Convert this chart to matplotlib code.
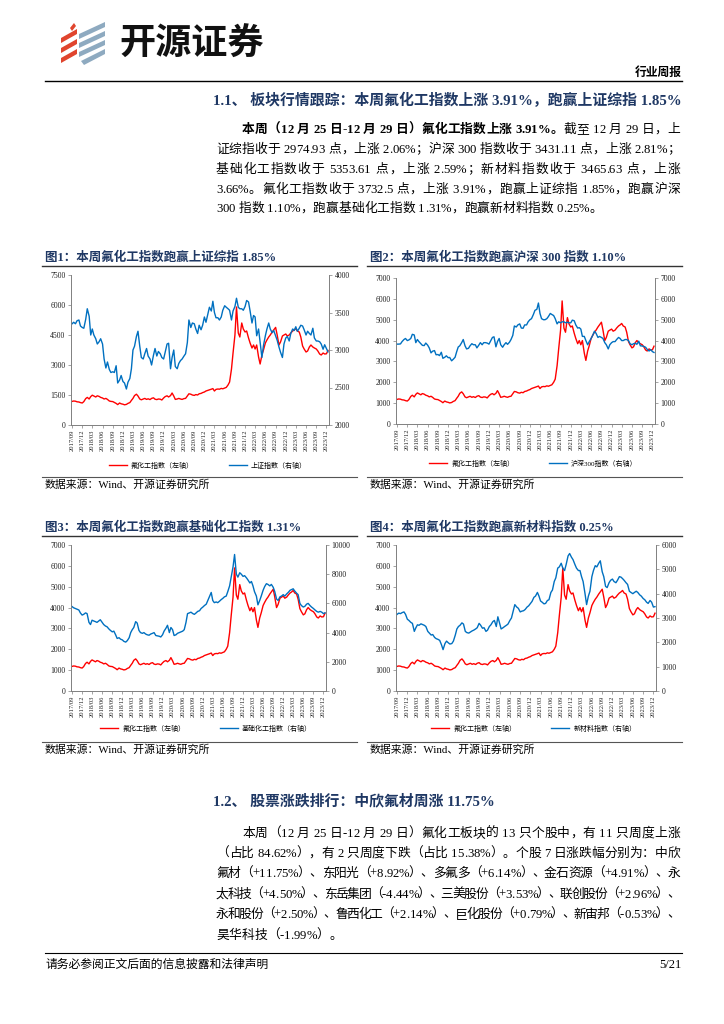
import pandas as pd
import matplotlib
matplotlib.use("Agg")
import matplotlib.pyplot as plt
import matplotlib.dates as mdates
from matplotlib.patches import Polygon
from matplotlib.lines import Line2D
from matplotlib.font_manager import FontProperties

FAM = ["Liberation Serif", "Noto Sans CJK SC"]
plt.rcParams["font.family"] = FAM
plt.rcParams["axes.unicode_minus"] = False

W, H = 724, 1024
NAVY = "#1F3864"
RED = "#FF0000"
BLUE = "#0070C0"
GREY = "#808080"

# semi-monthly readings, 2017/09 .. 2023/12
dates = pd.date_range("2017-09-01", periods=152, freq="SMS")

fluoro = [
    1180, 1200, 1190, 1160, 1150, 1120, 1100, 1170,
    1320, 1380, 1300, 1420, 1490, 1450, 1400, 1460, 1430, 1380, 1350, 1300,
    1330, 1280, 1200, 1180, 1170, 1130, 1080, 1020, 1100, 1060, 1040, 1010,
    1030, 1080, 1120, 1230, 1330, 1470, 1540, 1450, 1300, 1260, 1300, 1330,
    1280, 1310, 1270, 1330, 1360, 1290, 1270, 1300, 1290, 1250, 1350, 1420,
    1460, 1400, 1470, 1600, 1450, 1280, 1300, 1330, 1300, 1280, 1320, 1330,
    1450, 1560, 1540, 1500, 1480, 1520, 1500, 1560, 1580, 1620, 1650, 1700,
    1730, 1760, 1790, 1820, 1700, 1780, 1800, 1790, 1830, 1810, 1850, 1880,
    2000, 2150, 2800, 3600, 4500, 5900, 4600, 4400, 5100, 4800, 4650, 4700,
    4350, 4100, 3850, 4000, 3800, 4000, 3400, 3050, 3500, 3750, 4100, 4250,
    4400, 4500, 4650, 4750, 4880, 4500, 4000, 4150, 4450, 4500, 4550, 4450,
    4500, 4600, 4700, 4750, 4820, 4700, 4650, 4400, 3950, 3800, 3650, 3700,
    3900, 4000, 3900, 3850, 3800, 3700, 3550, 3500, 3600, 3550, 3560, 3730,
]

shanghai = [
    3350, 3370, 3350, 3390, 3400, 3320, 3300, 3290,
    3410, 3550, 3450, 3200, 3280, 3200, 3150, 3080, 3110, 3150, 3080, 2880,
    2760, 2840, 2740, 2700, 2710, 2700, 2790, 2560, 2600, 2660, 2580, 2560,
    2480, 2570, 2620, 2750, 3000, 3050, 3180, 3250, 3050, 2900, 2880, 2950,
    3020, 2920, 2880, 2800, 2930, 3020, 2920, 2980, 2950, 2900, 2880, 2970,
    3080, 3090, 2750, 2900, 3000, 2780, 2750, 2820, 2860, 2880, 2920, 2950,
    3100, 3400, 3300, 3360, 3350, 3280, 3220, 3330, 3270, 3330, 3440, 3370,
    3480, 3570, 3520, 3650, 3500, 3430, 3430, 3400, 3440, 3530, 3590, 3570,
    3550, 3530, 3400, 3520, 3580, 3690, 3570, 3550, 3550, 3530, 3580, 3660,
    3640, 3520, 3360, 3460, 3440, 3190, 3280, 3100, 2900, 3060, 3190, 3280,
    3360, 3280, 3230, 3260, 3190, 3130, 3040, 2970, 2900, 3080, 3160, 3180,
    3120, 3220, 3280, 3260, 3310, 3250, 3290, 3330, 3320, 3270, 3200, 3250,
    3220, 3200, 3290, 3160, 3120, 3120, 3110, 3080, 3010, 3070, 3020, 2975,
]

csi300 = [
    3830, 3830, 3840, 3950, 4050, 4100, 4000, 4030,
    4100, 4300, 4270, 3900, 4050, 3950, 3850, 3770, 3760, 3880, 3780, 3650,
    3410, 3490, 3520, 3320, 3330, 3280, 3440, 3150, 3200, 3270, 3180, 3190,
    3030, 3100, 3200, 3460, 3690, 3750, 3900, 4050, 3750, 3600, 3630, 3750,
    3850, 3800, 3800, 3650, 3780, 3900, 3800, 3900, 3900, 3880, 3830, 3970,
    4150, 4180, 3700, 3950, 4100, 3800, 3680, 3800, 3900, 3820, 3920, 4050,
    4250, 4700, 4650, 4750, 4800, 4600, 4590, 4750, 4750, 4900, 5000, 5050,
    5250, 5450, 5500, 5800, 5300, 5050, 5000, 5000, 5050, 5150, 5300, 5250,
    5200, 5050, 4800, 4900, 4850, 4900, 4900, 4850, 4880, 4850, 4850, 4980,
    4950, 4750, 4600, 4620, 4550, 4200, 4200, 4000, 3800, 3950, 4100, 4250,
    4450, 4350, 4150, 4200, 4150, 4100, 3900, 3800, 3600, 3800, 3900, 3950,
    3950, 4050, 4150, 4100, 4000, 4000, 4050, 4050, 4000, 3850, 3800, 3850,
    3870, 3820, 3970, 3750, 3740, 3720, 3680, 3580, 3500, 3570, 3470, 3430,
]

basic_chem = [
    5780, 5700, 5650, 5600, 5550, 5350, 5200, 5250,
    5350, 5300, 4700, 4550, 4850, 4800, 4750, 4700, 4800, 4880, 4700, 4550,
    4450, 4400, 4250, 4150, 4050, 4100, 3850, 3600, 3650, 3550, 3500, 3400,
    3350, 3450, 3650, 4000, 4200, 4350, 4750, 4650, 4150, 4000, 3950, 4000,
    3900, 3850, 3820, 3900, 3950, 4000, 3800, 3780, 3750, 3700, 3850, 4100,
    4300, 4500, 4000, 4350, 4200, 3800, 3850, 3950, 4000, 4050, 4100, 4200,
    4700, 5300, 5350, 5400, 5300, 5250, 5350, 5450, 5500, 5650, 5750, 5850,
    5950, 6200, 6500, 6750, 6200, 6050, 6100, 6050, 6150, 6250, 6350, 6450,
    6500, 6800, 7200, 7800, 8500, 9350, 8000, 7800, 8100, 8000, 7850, 7900,
    7750, 7600, 7400, 7500, 7200, 6800, 6500, 5900, 6200, 6500, 6900, 7150,
    7350, 7300, 7200, 7300, 7100, 6800, 6300, 6200, 6450, 6500, 6600, 6500,
    6650, 6750, 6900, 6950, 7000, 6850, 6700, 6600, 6000, 5850, 5750, 5800,
    5950, 6000, 5850, 5750, 5650, 5550, 5450, 5400, 5450, 5400, 5300, 5354,
]

new_mat = [
    3150, 3200, 3180, 3220, 3250, 3150, 2950, 2900,
    2820, 2780, 2450, 2600, 2720, 2700, 2760, 2730, 2700, 2650, 2450, 2380,
    2300, 2320, 2200, 2150, 2120, 2080, 1900, 1700, 1950, 2050, 1980, 1930,
    1950, 2050, 2300, 2550, 2650, 2700, 2800, 2750, 2450, 2400, 2380, 2420,
    2470, 2500, 2550, 2600, 2780, 2700, 2580, 2600, 2450, 2500, 2650, 2720,
    2850, 2900, 2650, 3050, 2800, 2550, 2600, 2650, 2700, 2750, 2900, 3000,
    3300, 3550, 3450, 3400, 3250, 3280, 3300, 3350, 3450, 3500, 3600, 3680,
    3850, 3900, 4050, 3900, 3700, 3650, 3580, 3600, 3720, 3750, 4050, 4150,
    4500, 4650, 5050, 5100, 5250, 5050, 4950, 5200, 5550, 5650, 5500, 5400,
    5200, 5050, 4950, 4950, 4700, 4500, 4000, 3550, 3900, 4100, 4700, 4950,
    5150, 5100, 5250, 5350, 4900, 4700, 4300, 4250, 4450, 4550, 4600, 4500,
    4450, 4550, 4700, 4680, 4620, 4550, 4450, 4380, 4100, 4050, 4000, 4050,
    4100, 4050, 3950, 3900, 3800, 3750, 3650, 3600, 3720, 3650, 3450, 3466,
]

titles = [
    "图1：本周氟化工指数跑赢上证综指 1.85%",
    "图2：本周氟化工指数跑赢沪深 300 指数 1.10%",
    "图3：本周氟化工指数跑赢基础化工指数 1.31%",
    "图4：本周氟化工指数跑赢新材料指数 0.25%",
]
left_name = "氟化工指数（左轴）"
right_names = ["上证指数（右轴）", "沪深300指数（右轴）", "基础化工指数（右轴）", "新材料指数（右轴）"]
right_series = [shanghai, csi300, basic_chem, new_mat]
left_ticks = [range(0, 7501, 1500), range(0, 7001, 1000), range(0, 7001, 1000), range(0, 7001, 1000)]
right_ticks = [range(2000, 4001, 500), range(0, 7001, 1000), range(0, 10001, 2000), range(0, 6001, 1000)]
source = "数据来源：Wind、开源证券研究所"

fig = plt.figure(figsize=(W / 100, H / 100), dpi=100)
renderer = fig.canvas.get_renderer()


def fx(x):
    return x / W


def fy(y):
    return 1 - y / H


def hline(x0, x1, y, lw=0.8, color="black"):
    fig.add_artist(Line2D([fx(x0), fx(x1)], [fy(y), fy(y)], lw=lw, color=color,
                          transform=fig.transFigure))


_wcache = {}


def char_w(c, size, weight):
    key = (c, size, weight)
    if key not in _wcache:
        fp = FontProperties(family=FAM, size=size, weight=weight)
        a = renderer.get_text_width_height_descent("|" + c + "|", fp, ismath=False)[0]
        b = renderer.get_text_width_height_descent("||", fp, ismath=False)[0]
        _wcache[key] = a - b
    return _wcache[key]


def para_line(y, segs, x0, x1, size=9.2, justify=True, color="black"):
    # y is the visual centre line; characters share one baseline
    chars = [(c, wt) for s, wt in segs for c in s]
    ws = [char_w(c, size, wt) for c, wt in chars]
    gaps = set(i for i in range(len(chars) - 1)
               if ord(chars[i][0]) > 127 or ord(chars[i + 1][0]) > 127
               or chars[i][0] == " " or chars[i + 1][0] == " ")
    extra = (x1 - x0 - sum(ws)) / len(gaps) if (justify and gaps) else 0
    base = y + size * 100 / 72 * 0.36
    x = x0
    for i, ((c, wt), w) in enumerate(zip(chars, ws)):
        if c != " ":
            fig.text(fx(x), fy(base), c, fontsize=size, weight=wt, color=color,
                     ha="left", va="baseline")
        x += w + (extra if i in gaps else 0)


# ---- header ----
red_bands = [[(61, 38), (77, 29), (77, 34), (61, 43)],
             [(61, 48), (77, 39), (77, 44), (61, 53)],
             [(61, 58), (77, 49), (77, 54), (61, 63)],
             [(70, 28), (74, 23), (76, 26), (72, 31)]]
blue_bands = [[(79, 34), (105, 22), (105, 27), (79, 39)],
              [(79, 43), (105, 31), (105, 36), (79, 48)],
              [(79, 52), (105, 40), (105, 45), (79, 57)],
              [(81, 61), (105, 49), (105, 54), (84, 65)]]
for pts, col in [(p, "#E0452E") for p in red_bands] + [(p, "#8EAAC0") for p in blue_bands]:
    fig.add_artist(Polygon([(fx(a), fy(b)) for a, b in pts], closed=True,
                           facecolor=col, edgecolor="none", transform=fig.transFigure))
fig.text(fx(119), fy(44), "开源证券", fontsize=26, weight="bold",
         family="Noto Sans CJK SC", ha="left", va="center", color="#111111")
fig.text(fx(682), fy(73), "行业周报", fontsize=8.5, weight="bold", ha="right", va="center")
hline(45, 682, 81, lw=1.0)

fig.text(fx(682), fy(100), "1.1、 板块行情跟踪：本周氟化工指数上涨 3.91%，跑赢上证综指 1.85%",
         fontsize=10.7, weight="bold", color=NAVY, ha="right", va="center")

para_line(128, [("本周（12 月 25 日-12 月 29 日）氟化工指数上涨 3.91%。", "bold"),
                ("截至 12 月 29 日，上", "normal")], 242, 680)
para_line(148, [("证综指收于 2974.93 点，上涨 2.06%；沪深 300 指数收于 3431.11 点，上涨 2.81%；", "normal")], 216, 680)
para_line(168, [("基础化工指数收于 5353.61 点，上涨 2.59%；新材料指数收于 3465.63 点，上涨", "normal")], 216, 680)
para_line(188, [("3.66%。氟化工指数收于 3732.5 点，上涨 3.91%，跑赢上证综指 1.85%，跑赢沪深", "normal")], 216, 680)
para_line(207, [("300 指数 1.10%，跑赢基础化工指数 1.31%，跑赢新材料指数 0.25%。", "normal")], 216, 680, justify=False)

# ---- four charts ----
layout = [
    # plot box (x0, y0, x1, y1), column (x0, x1), title y, legend y, source line y
    ((71, 275, 329, 425), (42, 357), 258, 465, 477),
    ((396, 278, 655, 424), (367, 682), 258, 463, 477),
    ((71, 545, 326, 691), (42, 357), 528, 728, 742),
    ((396, 545, 656, 691), (367, 682), 528, 728, 742),
]

for k in range(4):
    (x0, y0, x1, y1), (c0, c1), ty, ly, sy = layout[k]
    fig.text(fx(c0 + 3), fy(ty), titles[k], fontsize=9, weight="bold", color=NAVY,
             ha="left", va="center")
    hline(c0, c1, ty + 8, lw=1.0, color="#333333")

    ax = fig.add_axes([fx(x0), fy(y1), (x1 - x0) / W, (y1 - y0) / H])
    ax2 = ax.twinx()
    l1, = ax.plot(dates, fluoro, color=RED, lw=1.0, label=left_name)
    l2, = ax2.plot(dates, right_series[k], color=BLUE, lw=1.0, label=right_names[k])

    lt, rt = list(left_ticks[k]), list(right_ticks[k])
    ax.set_ylim(lt[0], lt[-1])
    ax.set_yticks(lt)
    ax2.set_ylim(rt[0], rt[-1])
    ax2.set_yticks(rt)
    ax.set_xlim(pd.Timestamp("2017-08-22"), pd.Timestamp("2023-12-24"))
    ax.xaxis.set_major_locator(mdates.MonthLocator(bymonth=(3, 6, 9, 12)))
    ax.xaxis.set_major_formatter(mdates.DateFormatter("%Y/%m"))

    for a in (ax, ax2):
        a.spines["top"].set_visible(False)
        for side in ("left", "right", "bottom"):
            a.spines[side].set_color(GREY)
            a.spines[side].set_linewidth(0.6)
        a.tick_params(axis="both", length=2, width=0.5, color=GREY, labelcolor="#222222",
                      labelsize=5.6, pad=2)
    ax.tick_params(axis="x", labelsize=4.7, rotation=90, pad=1.5)
    ax.set_facecolor("none")

    ax.legend(handles=[l1, l2], loc="center", ncol=2, frameon=False,
              bbox_to_anchor=(0.53, (y1 - ly) / (y1 - y0)),
              fontsize=5, handlelength=2.6, columnspacing=5, handletextpad=0.6)

    hline(c0, c1, sy, lw=0.8, color="#555555")
    fig.text(fx(c0 + 3), fy(sy + 8), source, fontsize=7.8, ha="left", va="center")

# ---- section 1.2 ----
fig.text(fx(213), fy(801), "1.2、 股票涨跌排行：中欣氟材周涨 11.75%",
         fontsize=10.7, weight="bold", color=NAVY, ha="left", va="center")
para_line(832, [("本周（12 月 25 日-12 月 29 日）氟化工板块的 13 只个股中，有 11 只周度上涨", "normal")], 242, 680)
para_line(852, [("（占比 84.62%），有 2 只周度下跌（占比 15.38%）。个股 7 日涨跌幅分别为：中欣", "normal")], 216, 680)
para_line(872, [("氟材（+11.75%）、东阳光（+8.92%）、多氟多（+6.14%）、金石资源（+4.91%）、永", "normal")], 216, 680)
para_line(893, [("太科技（+4.50%）、东岳集团（-4.44%）、三美股份（+3.53%）、联创股份（+2.96%）、", "normal")], 216, 680)
para_line(913, [("永和股份（+2.50%）、鲁西化工（+2.14%）、巨化股份（+0.79%）、新宙邦（-0.53%）、", "normal")], 216, 680)
para_line(934, [("昊华科技（-1.99%）。", "normal")], 216, 680, justify=False)

# ---- footer ----
hline(45, 682, 953, lw=0.8)
fig.text(fx(45), fy(965), "请务必参阅正文后面的信息披露和法律声明", fontsize=8.5, ha="left", va="center")
fig.text(fx(682), fy(965), "5/21", fontsize=9, ha="right", va="center")

fig.savefig("out.png", dpi=100, facecolor="white")
